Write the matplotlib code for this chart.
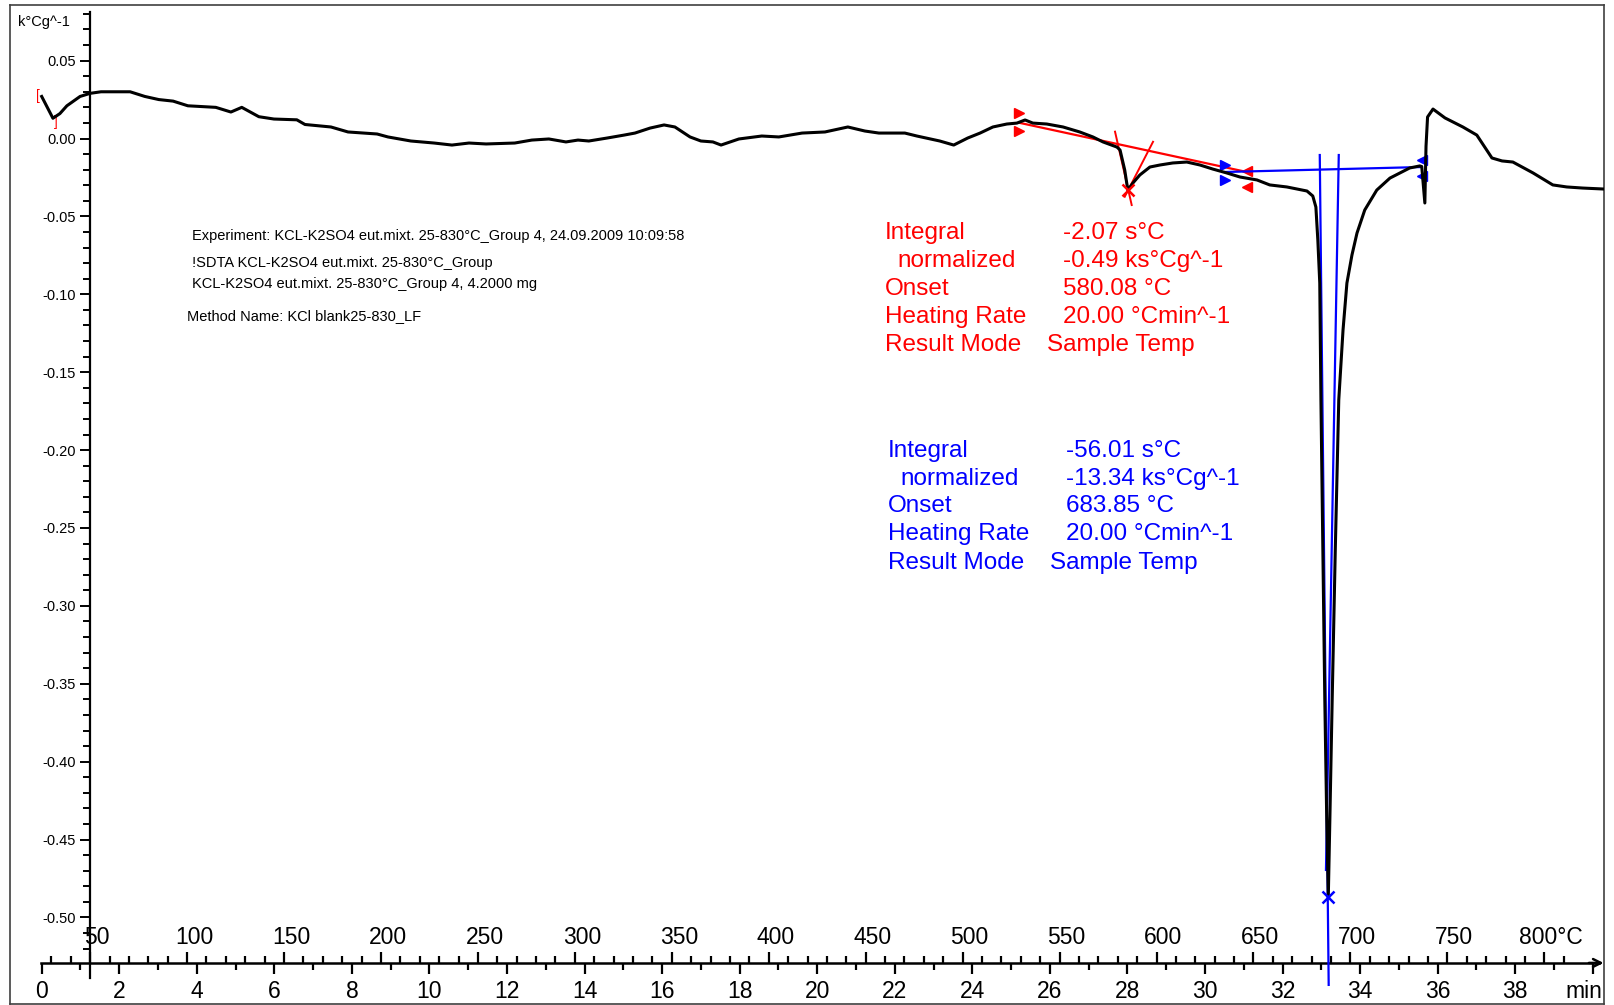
import numpy as np
import matplotlib
matplotlib.use("Agg")
import matplotlib.pyplot as plt
from matplotlib.ticker import FixedLocator
from matplotlib.transforms import ScaledTranslation

plt.rcParams['font.family'] = ['Liberation Sans', 'DejaVu Sans']

W, H = 1614, 1005

# SDTA signal, time in min, signal in k°Cg^-1
time_min = [0.00, 0.29, 0.47, 0.65, 0.99, 1.25, 1.53, 2.28, 2.66, 3.02,
            3.39, 3.77, 4.49, 4.88, 5.16, 5.60, 5.99, 6.58, 6.79, 7.46,
            7.90, 8.65, 8.93, 9.52, 10.12, 10.58, 11.02, 11.46, 12.20, 12.64,
            13.08, 13.52, 13.83, 14.11, 14.58, 15.02, 15.30, 15.69, 16.05, 16.33,
            16.72, 17.00, 17.31, 17.52, 17.98, 18.57, 19.01, 19.61, 20.20, 20.79,
            21.23, 21.59, 22.26, 22.57, 23.16, 23.52, 23.88, 24.20, 24.53, 24.89,
            25.15, 25.36, 25.56, 25.92, 26.34, 26.77, 27.11, 27.37, 27.73, 27.81,
            27.93, 28.01, 28.14, 28.32, 28.58, 28.84, 29.17, 29.53, 29.87, 30.20,
            30.56, 30.90, 31.34, 31.67, 32.11, 32.63, 32.78, 32.86, 32.91, 32.96,
            32.99, 33.04, 33.09, 33.14, 33.18, 33.22, 33.28, 33.36, 33.45, 33.56,
            33.66, 33.79, 33.92, 34.12, 34.43, 34.77, 35.28, 35.54, 35.59, 35.67,
            35.70, 35.74, 35.88, 36.19, 36.65, 37.01, 37.40, 37.66, 37.94, 38.46,
            38.97, 39.33, 39.74, 40.26]
signal = [0.0270, 0.0130, 0.0160, 0.0210, 0.0270, 0.0290, 0.0300, 0.0300, 0.0270, 0.0250,
          0.0240, 0.0210, 0.0200, 0.0170, 0.0200, 0.0140, 0.0125, 0.0120, 0.0090, 0.0074,
          0.0042, 0.0029, 0.0010, -0.0016, -0.0029, -0.0042, -0.0029, -0.0035, -0.0029, -0.0010,
          -0.0003, -0.0022, -0.0010, -0.0016, 0.0003, 0.0022, 0.0035, 0.0067, 0.0087, 0.0074,
          0.0010, -0.0016, -0.0022, -0.0042, -0.0003, 0.0016, 0.0010, 0.0035, 0.0042, 0.0074,
          0.0048, 0.0035, 0.0035, 0.0016, -0.0016, -0.0042, 0.0003, 0.0035, 0.0074, 0.0093,
          0.0099, 0.0119, 0.0099, 0.0093, 0.0074, 0.0042, 0.0010, -0.0022, -0.0055, -0.0074,
          -0.0202, -0.0331, -0.0286, -0.0234, -0.0183, -0.0170, -0.0157, -0.0151, -0.0170, -0.0196,
          -0.0221, -0.0247, -0.0266, -0.0298, -0.0311, -0.0337, -0.0369, -0.0440, -0.0651, -0.0928,
          -0.1678, -0.2641, -0.3604, -0.4374, -0.4868, -0.4374, -0.3604, -0.2641, -0.1678, -0.1229,
          -0.0928, -0.0748, -0.0607, -0.0459, -0.0331, -0.0254, -0.0189, -0.0176, -0.0180, -0.0414,
          -0.0050, 0.0138, 0.0189, 0.0132, 0.0074, 0.0022, -0.0125, -0.0144, -0.0151, -0.0221,
          -0.0298, -0.0311, -0.0318, -0.0324]

T_start = 25.0        # °C at t = 0
heating_rate = 20.0   # °C/min

# evaluation 1 (red)
red_base_t = [25.21, 31.08]
red_base_v = [0.0101, -0.0215]
red_tan1_t = [27.68, 28.11]
red_tan1_v = [0.0044, -0.0427]
red_tan2_t = [28.66, 27.93]
red_tan2_v = [-0.0021, -0.0374]
red_peak = (28.01, -0.0331)
red_lim_t = [25.20, 25.20, 31.08, 31.08]
red_lim_v = [0.0164, 0.0048, -0.0209, -0.0311]

# evaluation 2 (blue)
blue_base_t = [30.51, 35.59]
blue_base_v = [-0.0215, -0.0183]
blue_tan1_t = [32.96, 33.19]
blue_tan1_v = [-0.0106, -0.5433]
blue_tan2_t = [33.45, 33.12]
blue_tan2_v = [-0.0106, -0.4695]
blue_peak = (33.17, -0.4868)
blue_lim_t = [30.51, 30.51, 35.59, 35.59]
blue_lim_v = [-0.0170, -0.0266, -0.0138, -0.0241]

res_labels = ['Integral', 'normalized', 'Onset', 'Heating Rate', 'Result Mode']
red_values = ['-2.07 s°C', '-0.49 ks°Cg^-1', '580.08 °C', '20.00 °Cmin^-1', 'Sample Temp']
blue_values = ['-56.01 s°C', '-13.34 ks°Cg^-1', '683.85 °C', '20.00 °Cmin^-1', 'Sample Temp']

info_lines = ['Experiment: KCL-K2SO4 eut.mixt. 25-830°C_Group 4, 24.09.2009 10:09:58',
              '!SDTA KCL-K2SO4 eut.mixt. 25-830°C_Group',
              'KCL-K2SO4 eut.mixt. 25-830°C_Group 4, 4.2000 mg',
              'Method Name: KCl blank25-830_LF']

time_ticks = list(range(0, 41, 2))
time_labels = [str(t) for t in time_ticks[:-1]] + ['min']
temp_ticks = list(range(50, 801, 50))
temp_labels = [str(t) for t in temp_ticks[:-1]] + ['800°C']
y_ticks = [0.05, 0.00, -0.05, -0.10, -0.15, -0.20, -0.25, -0.30, -0.35, -0.40, -0.45, -0.50]


def px(x, y):
    return x / W, 1 - y / H


fig = plt.figure(figsize=(W / 100, H / 100), dpi=100)

# outer frame
frame = fig.add_axes([10 / W, 1 / H, 1594 / W, 999 / H])
frame.set_xticks([])
frame.set_yticks([])
for s in frame.spines.values():
    s.set_linewidth(1.2)
    s.set_color('#404040')

ax = fig.add_axes([10 / W, 0, 1594 / W, 1000 / H])
ax.patch.set_visible(False)
ax.set_xlim(-0.817, 40.29)
ax.set_ylim(-0.5562, 0.0857)

ax.plot(time_min, signal, color='black', lw=2.2, zorder=5)

# red evaluation
ax.plot(red_base_t, red_base_v, color='red', lw=1.6)
ax.plot(red_tan1_t, red_tan1_v, color='red', lw=1.4)
ax.plot(red_tan2_t, red_tan2_v, color='red', lw=1.4)
ax.plot(*red_peak, marker='x', color='red', ms=9, mew=1.8, zorder=6)
ax.plot(red_lim_t[:2], red_lim_v[:2], ls='none', marker='>', color='red', ms=6.5)
ax.plot(red_lim_t[2:], red_lim_v[2:], ls='none', marker='<', color='red', ms=6.5)
ax.text(-0.10, 0.0275, '[', color='red', fontsize=10, ha='center', va='center')
ax.text(0.36, 0.0105, ']', color='red', fontsize=10, ha='center', va='center')

# blue evaluation
ax.plot(blue_base_t, blue_base_v, color='blue', lw=1.6)
ax.plot(blue_tan1_t, blue_tan1_v, color='blue', lw=1.6, zorder=4, clip_on=False)
ax.plot(blue_tan2_t, blue_tan2_v, color='blue', lw=1.6, zorder=4)
ax.plot(*blue_peak, marker='x', color='blue', ms=9, mew=1.8, zorder=6)
ax.plot(blue_lim_t[:2], blue_lim_v[:2], ls='none', marker='>', color='blue', ms=6.5)
ax.plot(blue_lim_t[2:], blue_lim_v[2:], ls='none', marker='<', color='blue', ms=6.5)

# axes lines
for side in ['top', 'right']:
    ax.spines[side].set_visible(False)
ax.spines['left'].set_position(('data', 1.245))
ax.spines['left'].set_bounds(-0.539, 0.081)
ax.spines['bottom'].set_position(('data', -0.5292))
ax.spines['bottom'].set_bounds(-0.03, 40.15)
ax.spines['left'].set_linewidth(1.6)
ax.spines['bottom'].set_linewidth(1.8)
ax.annotate('', xy=(40.28, -0.5292), xytext=(39.9, -0.5292),
            arrowprops=dict(arrowstyle='->', lw=1.8, color='black',
                            shrinkA=0, shrinkB=0, mutation_scale=14))

ax.yaxis.set_major_locator(FixedLocator(y_ticks))
ax.set_yticklabels(['%.2f' % v if abs(v) > 1e-9 else '0.00' for v in y_ticks])
ax.yaxis.set_minor_locator(FixedLocator(np.round(np.arange(-0.52, 0.081, 0.01), 2)))
ax.tick_params(axis='y', which='major', direction='out', length=7.5, width=1.4,
               labelsize=10.5, pad=2.5)
ax.tick_params(axis='y', which='minor', direction='out', length=5, width=1.4)

ax.set_xticks(time_ticks, time_labels)
ax.xaxis.set_minor_locator(FixedLocator(range(1, 40, 2)))
ax.tick_params(axis='x', which='major', direction='out', length=8, width=1.6,
               labelsize=16.5, pad=4.5)
ax.tick_params(axis='x', which='minor', direction='out', length=5, width=1.6)

sec = ax.secondary_xaxis(-0.5292,
                         functions=(lambda t: T_start + heating_rate * t,
                                    lambda T: (T - T_start) / heating_rate),
                         transform=ax.transData)
sec.set_alignment('top')
for s in sec.spines.values():
    s.set_visible(False)
sec.set_xticks(temp_ticks, temp_labels)
sec.xaxis.set_minor_locator(FixedLocator([T for T in range(30, 820, 10) if T % 50]))
sec.tick_params(axis='x', which='major', direction='out', length=8, width=1.6,
                labelsize=16.5, pad=2)
sec.tick_params(axis='x', which='minor', direction='out', length=5, width=1.6)

# label offsets as in the reference
for lab in sec.get_xticklabels():
    lab.set_transform(lab.get_transform() + ScaledTranslation(5 / 72, 0, fig.dpi_scale_trans))
last = sec.get_xticklabels()[-1]
last.set_ha('left')
last.set_transform(last.get_transform() + ScaledTranslation(-23 / 72, 0, fig.dpi_scale_trans))
tlast = ax.get_xticklabels()[-1]
tlast.set_ha('right')
tlast.set_transform(tlast.get_transform() + ScaledTranslation(7 / 72, 0, fig.dpi_scale_trans))

fig.text(*px(18, 22), 'k°Cg^-1', fontsize=10.5, ha='left', va='center')

# info text
info_y = [236, 263, 284, 316]
info_x = [192, 192, 192, 187]
for x, y, s in zip(info_x, info_y, info_lines):
    fig.text(*px(x, y), s, fontsize=10.5, ha='left', va='center')

# result blocks
red_y = [233, 261, 289, 317, 345]
blue_y = [451, 479, 506, 534, 563]
for i, lab in enumerate(res_labels):
    dx = 12 if lab == 'normalized' else 0
    vx = -16 if i == 4 else 0
    fig.text(*px(885 + dx, red_y[i]), lab, color='red', fontsize=17.5, ha='left', va='center')
    fig.text(*px(1063 + vx, red_y[i]), red_values[i], color='red', fontsize=17.5,
             ha='left', va='center')
    fig.text(*px(888 + dx, blue_y[i]), lab, color='blue', fontsize=17.5, ha='left', va='center')
    fig.text(*px(1066 + vx, blue_y[i]), blue_values[i], color='blue', fontsize=17.5,
             ha='left', va='center')

fig.savefig('out.png', dpi=100)
